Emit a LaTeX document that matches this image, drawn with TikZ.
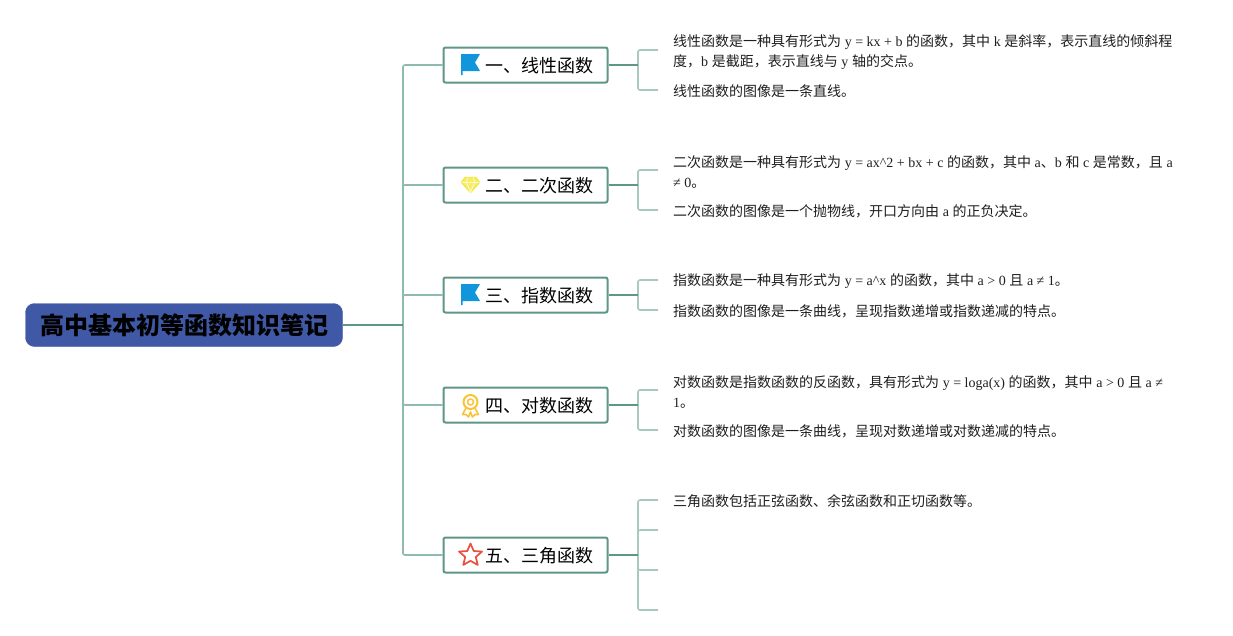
\documentclass[tikz,border=0pt]{standalone}
\usepackage{fontspec}
\setmainfont[WordSpace=1.15]{Noto Sans CJK SC}
\newfontfamily\enfont{Liberation Serif}
\newcommand{\en}[1]{{\enfont #1}}
\usetikzlibrary{arrows}
\usetikzlibrary{positioning}

\definecolor{rootblue}{HTML}{4059A6}
\definecolor{topicgreen}{HTML}{5E9688}
\definecolor{trunkgreen}{HTML}{8FBBAE}
\definecolor{twiggreen}{HTML}{A9C9C0}
\definecolor{leafgrey}{HTML}{1F1F1F}
\definecolor{flagblue}{HTML}{1296DB}
\definecolor{gemyellow}{HTML}{F4E844}
\definecolor{medalyellow}{HTML}{F9C437}
\definecolor{starred}{HTML}{E8503F}

\tikzset{
  root node/.style={draw=rootblue,fill=rootblue,rounded corners=9pt,inner sep=0pt,
    minimum width=317pt,minimum height=43pt,font=\fontsize{24}{28}\selectfont\bfseries},
  topic node/.style={draw=topicgreen,line width=2pt,fill=white,rounded corners=2pt,
    text width=135pt,inner xsep=14.5pt,inner ysep=0pt,align=right,minimum height=35pt,
    text height=16pt,text depth=1.4pt,font=\fontsize{18}{22}\selectfont},
  leaf node/.style={inner xsep=15pt,inner ysep=0pt,align=left,text=leafgrey,
    font=\fontsize{14}{20}\selectfont},
  root line/.style={draw=topicgreen,line width=1.6pt},
  trunk line/.style={draw=trunkgreen,line width=1.6pt,rounded corners=2pt},
  topic line/.style={draw=topicgreen,line width=1.6pt},
  twig line/.style={draw=twiggreen,line width=1.6pt,rounded corners=2pt},
  flag icon/.pic={
    \fill[flagblue] (-9.5,-11) -- (9.5,-11) -- (4.5,-2.5) -- (9.5,6) -- (-8,6) -- (-8,10) -- (-9.5,10) -- cycle;
  },
  gem icon/.pic={
    \draw[gemyellow,line width=1.3pt,fill=gemyellow!80,line join=round]
      (-5.5,-7.5) -- (5.5,-7.5) -- (9,-2.5) -- (0,7.5) -- (-9,-2.5) -- cycle;
    \draw[white,line width=.5pt] (-9,-2.5) -- (9,-2.5) (-3,-7.5) -- (-4,-2.5) -- (0,7.5) -- (4,-2.5) -- (3,-7.5);
  },
  medal icon/.pic={
    \draw[medalyellow,line width=1.6pt,fill=white,line join=round] (-4,2) -- (-8,9.5) -- (-4.5,9.5) -- (-2,12) -- (0,7)
      -- (2,12) -- (4.5,9.5) -- (8,9.5) -- (4,2);
    \draw[medalyellow,line width=2pt,fill=white] (0,-3) circle (7pt);
    \draw[medalyellow,line width=1.5pt] (0,-3) circle (3pt);
  },
  star icon/.pic={
    \draw[starred,line width=1.7pt,line join=round]
      (0,-11.5) -- (3.2,-4) -- (11.5,-3.5) -- (5.3,2) -- (7.3,10) -- (0,5.8)
      -- (-7.3,10) -- (-5.3,2) -- (-11.5,-3.5) -- (-3.2,-4) -- cycle;
  }
}

\begin{document}
\begin{tikzpicture}[x=1pt,y=-1pt]
  \useasboundingbox[fill=white] (0,0) rectangle (1233,635);

  \coordinate (hub) at (403,325);

  \node[root node] (root) at (184,325) {高中基本初等函数知识笔记};

  \node[topic node] (T1) at (525.5,65) {一、线性函数};
  \node[topic node] (T2) at (525.5,185) {二、二次函数};
  \node[topic node] (T3) at (525.5,295) {三、指数函数};
  \node[topic node] (T4) at (525.5,405) {四、对数函数};
  \node[topic node] (T5) at (525.5,555) {五、三角函数};

  \pic at (470.5,65) {flag icon};
  \pic at (470.5,185) {gem icon};
  \pic at (470.5,295) {flag icon};
  \pic at (470.5,405) {medal icon};
  \pic at (470.5,555) {star icon};

  \node[leaf node,anchor=west] (L11) at (658,52) {线性函数是一种具有形式为 \en{y = kx + b} 的函数，其中 \en{k} 是斜率，表示直线的倾斜程\\度，\en{b} 是截距，表示直线与 \en{y} 轴的交点。};
  \node[leaf node,anchor=west] (L12) at (658,91.5) {线性函数的图像是一条直线。};

  \node[leaf node,anchor=west] (L21) at (658,172) {二次函数是一种具有形式为 \en{y = ax\^{}2 + bx + c} 的函数，其中 \en{a}、\en{b} 和 \en{c} 是常数，且 \en{a}\\\en{≠ 0}。};
  \node[leaf node,anchor=west] (L22) at (658,211.5) {二次函数的图像是一个抛物线，开口方向由 \en{a} 的正负决定。};

  \node[leaf node,anchor=west] (L31) at (658,281.5) {指数函数是一种具有形式为 \en{y = a\^{}x} 的函数，其中 \en{a > 0} 且 \en{a ≠ 1}。};
  \node[leaf node,anchor=west] (L32) at (658,311.5) {指数函数的图像是一条曲线，呈现指数递增或指数递减的特点。};

  \node[leaf node,anchor=west] (L41) at (658,392) {对数函数是指数函数的反函数，具有形式为 \en{y = loga(x)} 的函数，其中 \en{a > 0} 且 \en{a ≠}\\\en{1}。};
  \node[leaf node,anchor=west] (L42) at (658,431.5) {对数函数的图像是一条曲线，呈现对数递增或对数递减的特点。};

  \node[leaf node,anchor=west] (L51) at (658,501.5) {三角函数包括正弦函数、余弦函数和正切函数等。};
  \coordinate (L52) at (658,530);
  \coordinate (L53) at (658,570);
  \coordinate (L54) at (658,610);

  \coordinate (J1) at (638,65);
  \coordinate (J2) at (638,185);
  \coordinate (J3) at (638,295);
  \coordinate (J4) at (638,405);
  \coordinate (J5) at (638,555);

  % trunk first, so the root line lies on top
  \draw[trunk line] (hub) |- (T1.west);
  \draw[trunk line] (hub) |- (T2.west);
  \draw[trunk line] (hub) |- (T3.west);
  \draw[trunk line] (hub) |- (T4.west);
  \draw[trunk line] (hub) |- (T5.west);
  \draw[root line] (root.east) -- (hub);

  \draw[twig line] (J1) |- (L11.west |- 0,50);
  \draw[twig line] (J1) |- (L12.west |- 0,90);
  \draw[twig line] (J2) |- (L21.west |- 0,170);
  \draw[twig line] (J2) |- (L22.west |- 0,210);
  \draw[twig line] (J3) |- (L31.west |- 0,280);
  \draw[twig line] (J3) |- (L32.west |- 0,310);
  \draw[twig line] (J4) |- (L41.west |- 0,390);
  \draw[twig line] (J4) |- (L42.west |- 0,430);
  \draw[twig line] (J5) |- (L51.west |- 0,500);
  \draw[twig line] (J5) |- (L52);
  \draw[twig line] (J5) |- (L53);
  \draw[twig line] (J5) |- (L54);

  \draw[topic line] (T1.east) -- (J1);
  \draw[topic line] (T2.east) -- (J2);
  \draw[topic line] (T3.east) -- (J3);
  \draw[topic line] (T4.east) -- (J4);
  \draw[topic line] (T5.east) -- (J5);
\end{tikzpicture}
\end{document}
